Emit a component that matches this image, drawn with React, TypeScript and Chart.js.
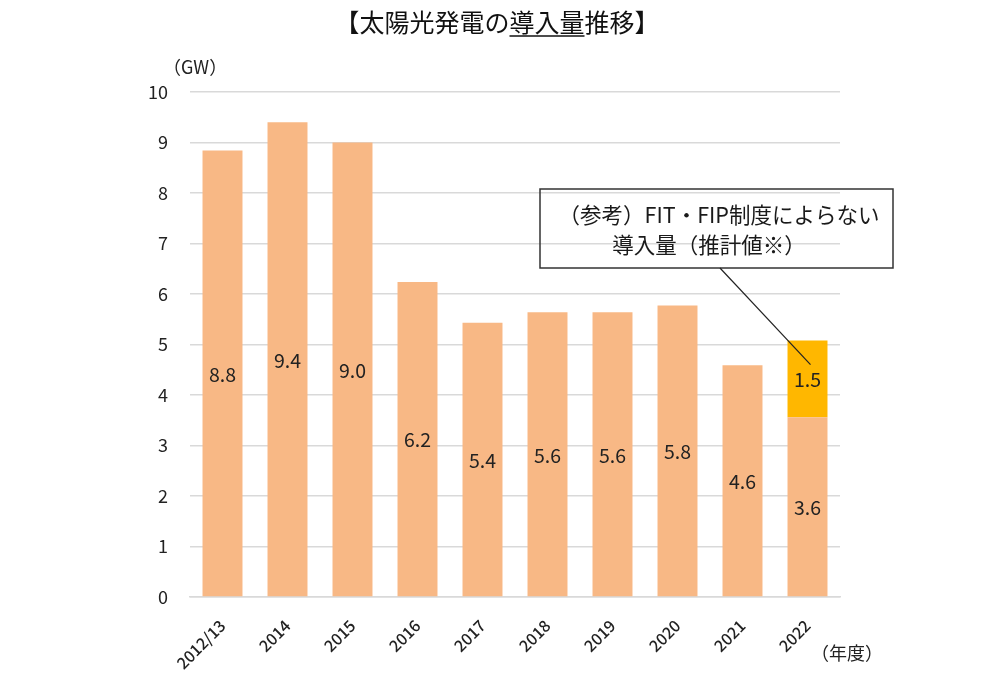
import React, { useEffect, useRef } from "react";
import { Chart, registerables } from "chart.js";

Chart.register(...registerables);

const categories = ["2012/13", "2014", "2015", "2016", "2017", "2018", "2019", "2020", "2021", "2022"];
const fitValues = [8.84, 9.4, 9.0, 6.24, 5.43, 5.64, 5.64, 5.77, 4.59, 3.56];
const nonFitValues = [null, null, null, null, null, null, null, null, null, 1.52];
const yTicks = [0, 1, 2, 3, 4, 5, 6, 7, 8, 9, 10];

const titleParts = ["【太陽光発電の", "導入量", "推移】"];
const noteLines = ["（参考）FIT・FIP制度によらない", "導入量（推計値※）"];
const yUnit = "（GW）";
const xUnit = "（年度）";

const JP = '"Noto Sans CJK JP", "Noto Sans", sans-serif';

const overlayPlugin = {
  id: "overlay",
  afterDatasetsDraw(chart: any) {
    const ctx = chart.ctx;
    const xs = chart.scales.x;
    const ys = chart.scales.y;
    ctx.save();
    // data labels
    ctx.fillStyle = "#222";
    ctx.font = `19.5px ${JP}`;
    ctx.textAlign = "center";
    ctx.textBaseline = "middle";
    chart.data.datasets.forEach((ds: any, di: number) => {
      const meta = chart.getDatasetMeta(di);
      meta.data.forEach((bar: any, i: number) => {
        const v = ds.data[i];
        if (v == null) return;
        const props = bar.getProps(["x", "y", "base"], true);
        ctx.fillText(Number(v).toFixed(1), props.x, (props.y + props.base) / 2 + 1);
      });
    });
    // title
    ctx.font = `400 25px ${JP}`;
    ctx.textBaseline = "middle";
    ctx.textAlign = "left";
    const widths = titleParts.map((t) => ctx.measureText(t).width);
    const total = widths.reduce((a, b) => a + b, 0);
    let tx = 497 - total / 2;
    const ty = 22;
    titleParts.forEach((t, i) => {
      ctx.fillStyle = "#111";
      ctx.fillText(t, tx, ty);
      if (i === 1) {
        ctx.strokeStyle = "#111";
        ctx.lineWidth = 1.5;
        ctx.beginPath();
        ctx.moveTo(tx, ty + 14);
        ctx.lineTo(tx + widths[i], ty + 14);
        ctx.stroke();
      }
      tx += widths[i];
    });
    // units
    ctx.fillStyle = "#222";
    ctx.font = `18px ${JP}`;
    ctx.textAlign = "left";
    ctx.fillText(yUnit, 163, 67);
    ctx.font = `18px ${JP}`;
    ctx.fillText(xUnit, 811, 653);
    // note box
    const bx = 540, by = 189, bw = 353, bh = 79;
    ctx.strokeStyle = "#333";
    ctx.lineWidth = 1.5;
    ctx.strokeRect(bx, by, bw, bh);
    ctx.fillStyle = "#1a1a1a";
    ctx.font = `400 21.5px ${JP}`;
    ctx.textAlign = "center";
    ctx.fillText(noteLines[0], 719, 215);
    ctx.fillText(noteLines[1], 709, 245);
    // leader line
    const ex = xs.getPixelForValue(9) + 3;
    const ey = ys.getPixelForValue(4.6);
    ctx.strokeStyle = "#222";
    ctx.lineWidth = 1.2;
    ctx.beginPath();
    ctx.moveTo(720, by + bh);
    ctx.lineTo(ex, ey);
    ctx.stroke();
    ctx.restore();
  },
};

export default function App() {
  const ref = useRef<HTMLCanvasElement>(null);
  useEffect(() => {
    if (!ref.current) return;
    const chart = new Chart(ref.current, {
      type: "bar",
      data: {
        labels: categories,
        datasets: [
          {
            data: fitValues,
            backgroundColor: "#F8B885",
            categoryPercentage: 1,
            barPercentage: 0.615,
          },
          {
            data: nonFitValues as any,
            backgroundColor: "#FFB700",
            categoryPercentage: 1,
            barPercentage: 0.615,
          },
        ],
      },
      options: {
        animation: false,
        responsive: false,
        maintainAspectRatio: false,
        layout: { padding: { top: 92, right: 160, left: 0, bottom: 0 } },
        plugins: {
          legend: { display: false },
          tooltip: { enabled: false },
          title: { display: false },
        },
        scales: {
          x: {
            stacked: true,
            grid: { display: false, drawTicks: false },
            border: { color: "#D9D9D9", width: 1.5 },
            ticks: {
              minRotation: 45,
              maxRotation: 45,
              color: "#222",
              padding: 19,
              font: { family: JP, size: 16, weight: 500 },
            },
            afterFit(scale: any) {
              scale.height = 76;
            },
          },
          y: {
            stacked: true,
            min: 0,
            max: 10,
            afterBuildTicks(scale: any) {
              scale.ticks = yTicks.map((v) => ({ value: v }));
            },
            grid: { color: "#D9D9D9", lineWidth: 1.5, drawTicks: false },
            border: { display: false },
            ticks: {
              color: "#222",
              padding: 22,
              font: { family: JP, size: 18 },
            },
            afterFit(scale: any) {
              scale.width = 190;
            },
          },
        },
      },
      plugins: [overlayPlugin],
    });
    return () => chart.destroy();
  }, []);
  return (
    <div style={{ position: "fixed", left: 0, top: 0, width: 1000, height: 673, background: "#fff" }}>
      <canvas ref={ref} width={1000} height={673} style={{ width: 1000, height: 673 }} />
    </div>
  );
}
